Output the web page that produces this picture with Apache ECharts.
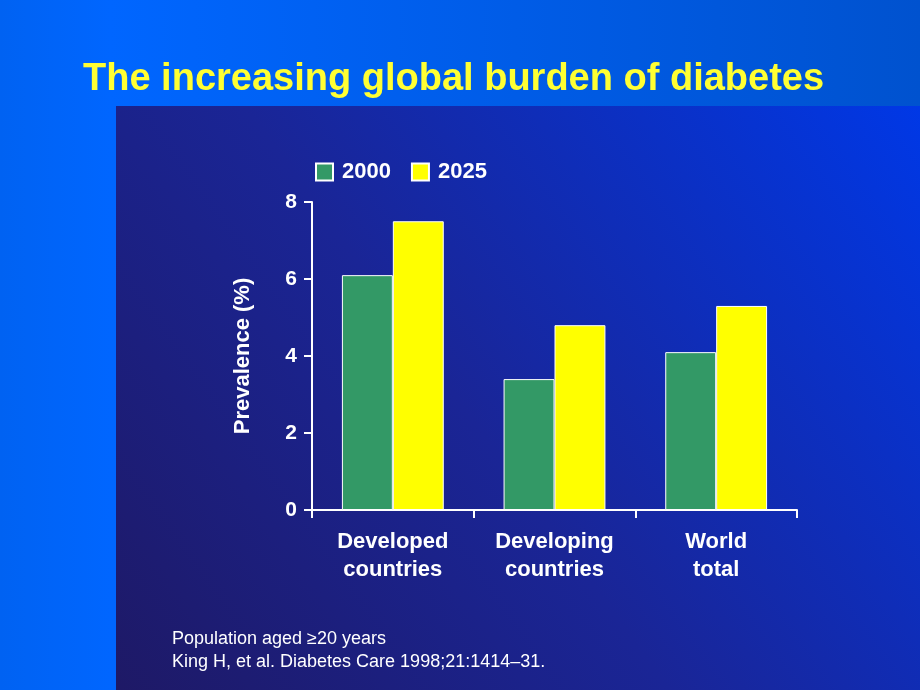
<!DOCTYPE html>
<html><head><meta charset="utf-8">
<script src="https://cdn.jsdelivr.net/npm/echarts@6/dist/echarts.min.js"></script>
<style>html,body{margin:0;padding:0;}#c{width:920px;height:690px;}</style>
</head><body><div id="c"></div>
<script>
const categories = ['Developed\ncountries', 'Developing\ncountries', 'World\ntotal'];
const seriesNames = ['2000', '2025'];
const values2000 = [6.1, 3.4, 4.1];
const values2025 = [7.5, 4.8, 5.3];
const yTicks = [0, 2, 4, 6, 8];
const titleText = 'The increasing global burden of diabetes';
const yAxisName = 'Prevalence (%)';
const footnotes = ['Population aged \u226520 years', 'King H, et al. Diabetes Care 1998;21:1414\u201331.'];

const chart = echarts.init(document.getElementById('c'), null, {renderer: 'canvas'});
const FONT = '"Liberation Sans"';
chart.setOption({
  backgroundColor: new echarts.graphic.LinearGradient(0, 0, 1, 0, [
    {offset: 0, color: '#0062f2'}, {offset: 0.12, color: '#0066ff'}, {offset: 1, color: '#0052cf'}
  ]),
  graphic: [
    {type: 'rect', z: -10, shape: {x: 116, y: 106, width: 804, height: 584},
     style: {fill: new echarts.graphic.LinearGradient(0, 1, 1, 0, [
       {offset: 0, color: '#1e1966'}, {offset: 0.45, color: '#1a2596'}, {offset: 1, color: '#0038e6'}
     ])}},
    {type: 'text', left: 172, top: 630, style: {text: footnotes[0], fill: '#ffffff', font: '18px ' + FONT}},
    {type: 'text', left: 172, top: 653, style: {text: footnotes[1], fill: '#ffffff', font: '18px ' + FONT}}
  ],
  title: {
    text: titleText, left: 78, top: 56,
    textStyle: {color: '#ffff33', fontSize: 38, fontWeight: 'bold', fontFamily: FONT}
  },
  legend: {
    data: seriesNames, left: 310, top: 156, itemWidth: 17, itemHeight: 17, itemGap: 20,
    icon: 'rect',
    textStyle: {color: '#ffffff', fontSize: 22, fontWeight: 'bold', fontFamily: FONT, padding: [0, 0, 0, 4]}
  },
  grid: {left: 312, top: 202, width: 485, height: 308},
  xAxis: {
    type: 'category', data: categories,
    axisLine: {lineStyle: {color: '#ffffff', width: 2}},
    axisTick: {show: true, length: 8, lineStyle: {color: '#ffffff', width: 2}},
    axisLabel: {color: '#ffffff', fontSize: 22, fontWeight: 'bold', fontFamily: FONT, lineHeight: 28, margin: 18}
  },
  yAxis: {
    type: 'value', min: yTicks[0], max: yTicks[yTicks.length - 1], interval: 2,
    name: yAxisName, nameLocation: 'middle', nameGap: 58, nameRotate: 90,
    nameTextStyle: {color: '#ffffff', fontSize: 22, fontWeight: 'bold', fontFamily: FONT},
    axisLine: {show: true, lineStyle: {color: '#ffffff', width: 2}},
    axisTick: {show: true, length: 8, lineStyle: {color: '#ffffff', width: 2}},
    splitLine: {show: false},
    axisLabel: {color: '#ffffff', fontSize: 21, fontWeight: 'bold', fontFamily: FONT, margin: 15}
  },
  series: [
    {name: seriesNames[0], type: 'bar', data: values2000, barGap: '0%', barCategoryGap: '37%',
     itemStyle: {color: '#339966', borderColor: '#ffffff', borderWidth: 1}},
    {name: seriesNames[1], type: 'bar', data: values2025, barGap: '0%', barCategoryGap: '37%',
     itemStyle: {color: '#ffff00', borderColor: '#ffffff', borderWidth: 1}}
  ]
});
</script></body></html>
